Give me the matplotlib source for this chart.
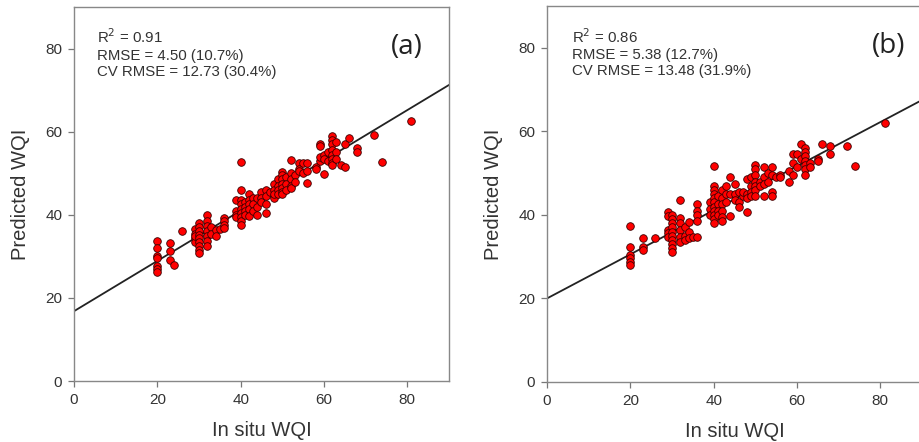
import matplotlib
matplotlib.use("Agg")
import numpy as np
import matplotlib.pyplot as plt

# ── Data ──────────────────────────────────────────────────────────────────────
# panel (a): in situ WQI -> predicted values
a_cols = {
    20: [33.6, 32.0, 30.2, 29.5, 27.6, 26.9, 26.2],
    23: [33.2, 31.4, 29.2],
    24: [28.0],
    26: [36.0],
    29: [36.5, 35.5, 34.5, 33.5, 34.9],
    30: [38.0, 37.0, 36.2, 35.2, 34.3, 33.4, 32.5, 31.5, 30.8],
    32: [40.0, 38.4, 37.2, 36.0, 34.8, 33.6, 32.4],
    33: [37.0, 35.5],
    34: [36.3, 35.0],
    35: [36.5],
    36: [39.3, 38.5, 37.5, 36.8],
    39: [43.5, 41.0, 40.0, 39.5],
    40: [52.8, 46.0, 43.5, 42.5, 41.5, 40.5, 39.5, 38.5, 37.5],
    41: [43.0, 42.0, 41.0, 40.0],
    42: [45.0, 43.5, 42.5, 41.5, 39.7],
    43: [44.0, 42.5, 41.0],
    44: [44.0, 42.0, 40.0],
    45: [45.5, 44.0, 43.0],
    46: [46.0, 44.5, 42.5, 40.5],
    47: [45.5],
    48: [47.5, 46.0, 44.5, 44.0, 45.0],
    49: [48.5, 47.0, 46.0, 45.0],
    50: [50.3, 49.5, 48.5, 47.5, 46.5, 45.5, 45.0],
    51: [49.0, 47.5, 46.0],
    52: [53.3, 50.0, 48.5, 47.0, 46.5],
    53: [49.5, 48.0],
    54: [52.5, 51.0, 50.5],
    55: [52.5, 50.0],
    56: [52.5, 50.5, 47.6],
    58: [51.5, 51.0],
    59: [57.0, 56.5, 53.0, 54.0],
    60: [54.5, 53.5, 49.8],
    61: [55.0, 53.0],
    62: [59.0, 58.0, 57.0, 55.5, 54.5, 53.5, 52.5, 52.0],
    63: [57.5, 55.0, 53.5],
    64: [52.0],
    65: [57.0, 51.5],
    66: [58.5],
    68: [56.0, 55.0],
    72: [59.2],
    74: [52.8],
    81: [62.6],
}

# panel (b)
b_cols = {
    20: [37.4, 32.4, 30.5, 29.6, 28.8, 27.9],
    23: [34.4, 32.4, 31.6],
    26: [34.4],
    29: [40.6, 39.8, 36.4, 35.6, 34.8],
    30: [40.0, 39.0, 38.0, 37.0, 36.0, 35.0, 34.0, 33.0, 32.0, 31.2],
    32: [43.6, 39.2, 38.0, 36.4, 34.8, 33.6],
    33: [37.0, 35.0, 34.0],
    34: [38.4, 36.0, 34.5],
    35: [34.8],
    36: [42.5, 41.0, 40.0, 38.5, 34.8],
    39: [43.2, 41.5, 40.0],
    40: [51.7, 47.0, 46.0, 45.0, 44.0, 43.0, 42.0, 41.0, 40.0, 39.0, 38.0],
    41: [44.5, 42.5, 41.0, 40.0],
    42: [46.0, 44.0, 42.5, 41.0, 39.5, 38.5],
    43: [47.0, 45.0, 43.0],
    44: [49.0, 45.0, 39.8],
    45: [47.5, 45.0, 43.5],
    46: [45.5, 43.0, 42.0],
    47: [44.5, 45.5],
    48: [48.5, 45.0, 44.0, 40.8],
    49: [49.0, 47.0, 45.5, 44.5],
    50: [52.0, 51.0, 49.5, 48.0, 47.0, 46.0, 44.5],
    51: [48.0, 47.0],
    52: [51.5, 49.0, 47.5, 44.5],
    53: [50.0, 48.0],
    54: [51.5, 49.5, 45.5, 44.5],
    55: [49.0],
    56: [49.5, 49.0],
    58: [50.5, 48.0],
    59: [54.5, 52.5, 49.5],
    60: [54.5, 51.5],
    61: [57.0, 53.5],
    62: [56.0, 55.0, 54.0, 53.0, 52.0, 51.0, 49.5],
    63: [52.5, 51.5],
    65: [53.5, 53.0],
    66: [57.0],
    68: [56.5, 54.5],
    72: [56.5],
    74: [51.7],
    81: [61.9],
}

# fitted lines (intercept, slope)
a_fit = (16.8, 0.605)
b_fit = (20.0, 0.528)

a_stats = "R$^2$ = 0.91\nRMSE = 4.50 (10.7%)\nCV RMSE = 12.73 (30.4%)"
b_stats = "R$^2$ = 0.86\nRMSE = 5.38 (12.7%)\nCV RMSE = 13.48 (31.9%)"

ticks = [0, 20, 40, 60, 80]


def flatten(cols):
    xs, ys = [], []
    for k, vals in cols.items():
        xs += [k] * len(vals)
        ys += vals
    return np.array(xs, float), np.array(ys, float)


def draw_panel(ax, cols, fit, stats, tag, stats_x, tag_x):
    x, y = flatten(cols)
    xl = np.array([0, 90])
    ax.plot(xl, fit[0] + fit[1] * xl, color="#222222", lw=1.3, zorder=2)
    ax.scatter(x, y, s=30, c="#ff0000", edgecolors="#3a0000", linewidths=0.6, zorder=3)

    ax.set_xlim(0, 90)
    ax.set_ylim(0, 90)
    ax.set_xticks(ticks)
    ax.set_yticks(ticks)
    ax.tick_params(direction="out", length=4.5, width=0.9, pad=4, colors="#777777",
                   labelcolor="#333333", labelsize=11, top=False, right=False)
    for s in ax.spines.values():
        s.set_color("#888888")
        s.set_linewidth(1.0)

    ax.set_xlabel("In situ WQI", fontsize=14.5, color="#333333", labelpad=10)
    ax.set_ylabel("Predicted WQI", fontsize=14.5, color="#333333", labelpad=11)

    ax.text(stats_x, 0.945, stats, transform=ax.transAxes, va="top", ha="left",
            fontsize=10.8, color="#333333", linespacing=1.2)
    ax.text(tag_x, 0.893, tag, transform=ax.transAxes, va="center", ha="center",
            fontsize=20, color="#222222", family="Open Sans")


plt.rcParams["font.family"] = ["Liberation Sans", "DejaVu Sans"]

fig = plt.figure(figsize=(9.2, 4.42), dpi=100)
ax1 = fig.add_axes([0.0804, 0.138, 0.4076, 0.846])
ax2 = fig.add_axes([0.5946, 0.136, 0.4076, 0.850])

draw_panel(ax1, a_cols, a_fit, a_stats, "(a)", 0.061, 0.888)
draw_panel(ax2, b_cols, b_fit, b_stats, "(b)", 0.066, 0.91)

fig.savefig("out.png", dpi=100)
